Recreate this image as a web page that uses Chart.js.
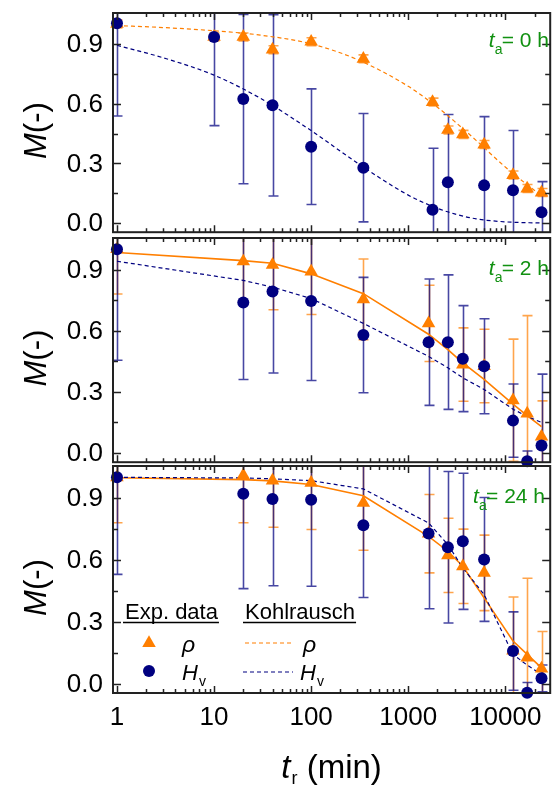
<!DOCTYPE html>
<html>
<head>
<meta charset="utf-8">
<script src="https://cdn.jsdelivr.net/npm/chart.js@4.4.0/dist/chart.umd.min.js"></script>
<style>
  body { margin: 0; background: #fff; }
  #wrap { position: relative; width: 558px; height: 786px; }
  canvas { position: absolute; left: 0; }
</style>
</head>
<body>
<div id="wrap">
  <canvas id="p1" width="558" height="240" style="top:0px"></canvas>
  <canvas id="p2" width="558" height="240" style="top:230px"></canvas>
  <canvas id="p3" width="558" height="328" style="top:458px"></canvas>
</div>
<script>
// recovery times (min)
const tr0 = [1, 10, 20, 40, 100, 345, 1780, 2560, 3650, 6050, 12000, 16800, 23600];
const tr = [1, 20, 40, 100, 345, 1620, 2560, 3650, 6050, 12000, 16800, 23600];

// t_a = 0 h
const rho0 = [1.0, 0.935, 0.935, 0.871, 0.911, 0.825, 0.608, 0.468, 0.446, 0.395, 0.242, 0.174, 0.154];
const rho0Err = [0.02, 0.02, 0.02, 0.02, 0.02, 0.02, 0.02, 0.02, 0.02, 0.02, 0.02, 0.02, 0.02];
const hv0 = [1.003, 0.935, 0.623, 0.592, 0.384, 0.279, 0.068, 0.206, null, 0.19, 0.165, null, 0.055];
const hv0Err = [0.465, 0.445, 0.425, 0.455, 0.29, 0.272, 0.308, 0.34, null, 0.345, 0.30, null, 0.154];
const fitX0 = [1, 3, 10, 30, 100, 300, 1000, 2000, 3000, 5000, 10000, 23600];
const fitRho0 = [0.992, 0.982, 0.966, 0.944, 0.9, 0.821, 0.687, 0.582, 0.511, 0.416, 0.282, 0.137];
const fitHv0 = [0.893, 0.83, 0.743, 0.627, 0.465, 0.302, 0.141, 0.075, 0.047, 0.022, 0.007, 0.001];

// t_a = 2 h
const rho2 = [1.0, 0.94, 0.923, 0.89, 0.754, 0.636, null, 0.434, 0.427, 0.259, 0.194, 0.081];
const rho2Err = [0.22, 0.2, 0.22, 0.21, 0.198, 0.187, null, 0.18, 0.18, 0.3, 0.48, 0.175];
const hv2 = [1.0, 0.738, 0.793, 0.746, 0.579, 0.544, 0.544, 0.463, 0.426, 0.159, -0.04, 0.037];
const hv2Err = [0.545, 0.377, 0.40, 0.39, 0.283, 0.31, 0.33, 0.26, 0.233, 0.18, 0.05, 0.35];
const fitRho2 = [0.984, 0.944, 0.931, 0.879, 0.782, 0.583, 0.507, 0.442, 0.361, 0.24, 0.183, 0.129];
const fitHv2 = [0.941, 0.847, 0.814, 0.758, 0.636, 0.474, 0.418, 0.369, 0.312, 0.215, 0.18, 0.15];

// t_a = 24 h
const rho24 = [1.0, 1.01, 0.984, 0.973, 0.876, 0.727, 0.622, 0.569, 0.537, 0.16, 0.126, 0.073];
const rho24Err = [0.22, 0.23, 0.226, 0.226, 0.229, 0.19, 0.18, 0.18, 0.183, 0.26, 0.385, 0.18];
const hv24 = [1.0, 0.921, 0.895, 0.892, 0.768, 0.728, 0.661, 0.69, 0.602, 0.158, -0.044, 0.026];
const hv24Err = [0.47, 0.46, 0.42, 0.42, 0.35, 0.365, 0.367, 0.33, 0.30, 0.19, 0.05, 0.065];
const fitRho24 = [0.998, 0.989, 0.983, 0.965, 0.911, 0.714, 0.642, 0.569, 0.416, 0.207, 0.142, 0.077];
const fitHv24 = [1.0, 0.997, 0.993, 0.984, 0.944, 0.779, 0.674, 0.561, 0.432, 0.142, 0.09, 0.045];

const xTicks = [1, 10, 100, 1000, 10000];
const yTicks = [0, 0.3, 0.6, 0.9];
const yMinor = [0.15, 0.45, 0.75];

const ORANGE = '#ff7f00';
const NAVY = '#000080';
const GREEN = '#119111';
const FONT = '"Liberation Sans", Arial, Helvetica, sans-serif';
const CIRCLE_R = 6;
const TRI_R = 7.8;

const pts = (xs, ys, es) => xs.map((x, i) => ({x: x, y: ys[i], e: es ? es[i] : null})).filter(p => p.y !== null);

// write a run of text pieces (italic / subscript), returns end x
function runText(ctx, parts, x, y, measureOnly) {
  parts.forEach(p => {
    ctx.font = (p.i ? 'italic ' : '') + p.s + 'px ' + FONT;
    x += (p.dx || 0);
    if (!measureOnly) ctx.fillText(p.t, x, y + (p.dy || 0));
    x += ctx.measureText(p.t).width;
  });
  return x;
}

const errorBars = {
  id: 'errorBars',
  beforeDatasetsDraw(chart) {
    const {ctx, chartArea: a, scales: {x, y}} = chart;
    ctx.save();
    ctx.beginPath();
    ctx.rect(a.left, a.top, a.right - a.left, a.bottom - a.top);
    ctx.clip();
    chart.data.datasets.slice().reverse().forEach(ds => {
      if (!ds.barColor) return;
      ctx.strokeStyle = ds.barColor;
      ctx.lineWidth = 1.6;
      ds.data.forEach(p => {
        if (p.e == null) return;
        const px = Math.round(x.getPixelForValue(p.x)) + 0.5;
        const top = y.getPixelForValue(p.y + p.e);
        const bot = y.getPixelForValue(p.y - p.e);
        ctx.beginPath();
        ctx.moveTo(px, top); ctx.lineTo(px, bot);
        ctx.moveTo(px - 5, top); ctx.lineTo(px + 5, top);
        ctx.moveTo(px - 5, bot); ctx.lineTo(px + 5, bot);
        ctx.stroke();
      });
    });
    ctx.restore();
  }
};

const frame = {
  id: 'frame',
  afterDraw(chart, args, opts) {
    const {ctx, chartArea: a, scales: {x, y}} = chart;
    ctx.save();
    ctx.strokeStyle = '#222';
    ctx.lineWidth = 2;
    ctx.strokeRect(a.left, a.top, a.right - a.left, a.bottom - a.top);

    ctx.lineWidth = 1.5;
    ctx.beginPath();
    for (let d = 0; d <= 4; d++) {
      for (let k = 1; k < 10; k++) {
        const v = k * Math.pow(10, d);
        if (v < x.min || v > x.max) continue;
        const px = Math.round(x.getPixelForValue(v)) + 0.5;
        const len = k === 1 ? 7 : 4;
        ctx.moveTo(px, a.bottom); ctx.lineTo(px, a.bottom - len);
        ctx.moveTo(px, a.top); ctx.lineTo(px, a.top + len);
      }
    }
    yTicks.concat(yMinor).forEach(v => {
      const py = Math.round(y.getPixelForValue(v)) + 0.5;
      const len = yTicks.includes(v) ? 8 : 5;
      ctx.moveTo(a.left, py); ctx.lineTo(a.left + len, py);
      ctx.moveTo(a.right, py); ctx.lineTo(a.right - len, py);
    });
    ctx.stroke();

    // y tick labels
    ctx.fillStyle = '#000';
    ctx.font = '26px ' + FONT;
    ctx.textAlign = 'right';
    ctx.textBaseline = 'middle';
    yTicks.forEach(v => ctx.fillText(v.toFixed(1), a.left - 10, y.getPixelForValue(v) + 1));
    ctx.textAlign = 'left';
    ctx.textBaseline = 'alphabetic';

    // y title  M(-)
    const yt = [{t: 'M', s: 31, i: true}, {t: '(-)', s: 31}];
    const w = runText(ctx, yt, 0, 0, true);
    ctx.save();
    ctx.translate(46, (a.top + a.bottom) / 2 + 8);
    ctx.rotate(-Math.PI / 2);
    runText(ctx, yt, -w / 2, 0);
    ctx.restore();

    // panel label
    ctx.fillStyle = GREEN;
    const tail = [{t: '= ' + opts.ta + ' h', s: 21}];
    const tw = runText(ctx, tail, 0, 0, true);
    const sx = opts.labelRight - tw;
    runText(ctx, [{t: 't', s: 21, i: true}], sx - 13, a.top + opts.labelY);
    runText(ctx, [{t: 'a', s: 14}], sx - 7, a.top + opts.labelY + 7);
    runText(ctx, tail, sx, a.top + opts.labelY);

    if (opts.legend) {
      ctx.fillStyle = '#000';
      ctx.strokeStyle = '#000';
      ctx.lineWidth = 1.6;
      const ly = a.top + 153;
      [['Exp. data', a.left + 12], ['Kohlrausch', a.left + 132]].forEach(h => {
        const e = runText(ctx, [{t: h[0], s: 22}], h[1], ly);
        ctx.beginPath();
        ctx.moveTo(h[1] - 2, ly + 3.5); ctx.lineTo(e + 1, ly + 3.5);
        ctx.stroke();
      });
      // markers
      const mx = a.left + 36;
      ctx.fillStyle = ORANGE;
      const r = TRI_R, ty = a.top + 177;
      ctx.beginPath();
      ctx.moveTo(mx, ty - r);
      ctx.lineTo(mx + r * Math.sin(2 * Math.PI / 3), ty - r * Math.cos(2 * Math.PI / 3));
      ctx.lineTo(mx - r * Math.sin(2 * Math.PI / 3), ty - r * Math.cos(2 * Math.PI / 3));
      ctx.closePath();
      ctx.fill();
      ctx.fillStyle = NAVY;
      ctx.beginPath();
      ctx.arc(mx, a.top + 205, CIRCLE_R, 0, 2 * Math.PI);
      ctx.fill();
      // fit lines
      ctx.lineWidth = 1.2;
      ctx.setLineDash([4, 3]);
      ctx.strokeStyle = ORANGE;
      ctx.beginPath(); ctx.moveTo(a.left + 132, a.top + 177); ctx.lineTo(a.left + 180, a.top + 177); ctx.stroke();
      ctx.strokeStyle = NAVY;
      ctx.beginPath(); ctx.moveTo(a.left + 130, a.top + 206); ctx.lineTo(a.left + 180, a.top + 206); ctx.stroke();
      ctx.setLineDash([]);
      ctx.fillStyle = '#000';
      const hv = [{t: 'H', s: 22, i: true}, {t: 'v', s: 14, dy: 6, dx: 1}];
      runText(ctx, [{t: 'ρ', s: 23, i: true}], a.left + 69, a.top + 186);
      runText(ctx, hv, a.left + 69, a.top + 214);
      runText(ctx, [{t: 'ρ', s: 23, i: true}], a.left + 190, a.top + 186);
      runText(ctx, hv, a.left + 187, a.top + 214);
    }

    if (opts.xTitle) {
      ctx.fillStyle = '#000';
      const xt = [{t: 't', s: 33, i: true}, {t: 'r', s: 18, dy: 6, dx: 1}, {t: ' (min)', s: 33}];
      const xw = runText(ctx, xt, 0, 0, true);
      runText(ctx, xt, (a.left + a.right) / 2 - xw / 2, 320);
    }
    ctx.restore();
  }
};

function panel(id, p) {
  const data = {
    datasets: [
      {
        label: 'Hv',
        data: pts(p.tr, p.hv, p.hvErr),
        barColor: 'rgba(0, 0, 128, 0.72)',
        showLine: false,
        pointStyle: 'circle',
        pointRadius: CIRCLE_R,
        pointBackgroundColor: NAVY,
        pointBorderWidth: 0,
        clip: false
      },
      {
        label: 'rho',
        data: pts(p.tr, p.rho, p.rhoErr),
        barColor: 'rgba(255, 127, 0, 0.7)',
        showLine: false,
        pointStyle: 'triangle',
        pointRadius: TRI_R,
        pointBackgroundColor: ORANGE,
        pointBorderWidth: 0,
        clip: false
      },
      {
        label: 'Kohlrausch Hv',
        data: pts(p.fitX, p.fitHv),
        borderColor: NAVY,
        borderWidth: 1.2,
        borderDash: [4, 3],
        pointRadius: 0,
        cubicInterpolationMode: p.smooth ? 'monotone' : 'default',
        tension: 0
      },
      {
        label: 'Kohlrausch rho',
        data: pts(p.fitX, p.fitRho),
        borderColor: ORANGE,
        borderWidth: p.smooth ? 1.2 : 1.6,
        borderDash: p.smooth ? [4, 3] : [],
        pointRadius: 0,
        cubicInterpolationMode: p.smooth ? 'monotone' : 'default',
        tension: 0
      }
    ]
  };

  const config = {
    type: 'line',
    data: data,
    options: {
      responsive: false,
      animation: false,
      devicePixelRatio: 1,
      events: [],
      layout: { padding: { top: p.padTop, bottom: p.padBottom, left: 0, right: 1 } },
      scales: {
        x: {
          type: 'logarithmic',
          min: 0.91,
          max: 29000,
          display: p.showX,
          afterBuildTicks: s => { s.ticks = xTicks.map(v => ({value: v})); },
          afterFit: s => { if (p.showX) s.height = 93; },
          grid: { display: false, drawTicks: false },
          border: { display: false },
          ticks: {
            autoSkip: false,
            maxRotation: 0,
            padding: 9,
            color: '#000',
            font: { family: FONT, size: 26 },
            callback: v => String(v)
          }
        },
        y: {
          min: -0.045,
          max: 1.055,
          afterBuildTicks: s => { s.ticks = yTicks.map(v => ({value: v})); },
          afterFit: s => { s.width = 113; },
          grid: { display: false, drawTicks: false },
          border: { display: false },
          ticks: { display: false }
        }
      },
      plugins: {
        legend: { display: false },
        tooltip: { enabled: false },
        frame: { ta: p.ta, labelY: p.labelY, labelRight: p.labelRight, legend: p.legend, xTitle: p.showX }
      }
    },
    plugins: [errorBars, frame]
  };
  return new Chart(document.getElementById(id), config);
}

const chart0 = panel('p1', {
  tr: tr0, rho: rho0, rhoErr: rho0Err, hv: hv0, hvErr: hv0Err,
  fitX: fitX0, fitRho: fitRho0, fitHv: fitHv0, smooth: true,
  ta: '0', labelY: 34, labelRight: 549, padTop: 13, padBottom: 3, showX: false, legend: false
});
const chart2 = panel('p2', {
  tr: tr, rho: rho2, rhoErr: rho2Err, hv: hv2, hvErr: hv2Err,
  fitX: tr, fitRho: fitRho2, fitHv: fitHv2, smooth: false,
  ta: '2', labelY: 37, labelRight: 549, padTop: 8, padBottom: 4, showX: false, legend: false
});
const chart24 = panel('p3', {
  tr: tr, rho: rho24, rhoErr: rho24Err, hv: hv24, hvErr: hv24Err,
  fitX: tr, fitRho: fitRho24, fitHv: fitHv24, smooth: false,
  ta: '24', labelY: 37, labelRight: 545, padTop: 8, padBottom: 0, showX: true, legend: true
});
</script>
</body>
</html>
